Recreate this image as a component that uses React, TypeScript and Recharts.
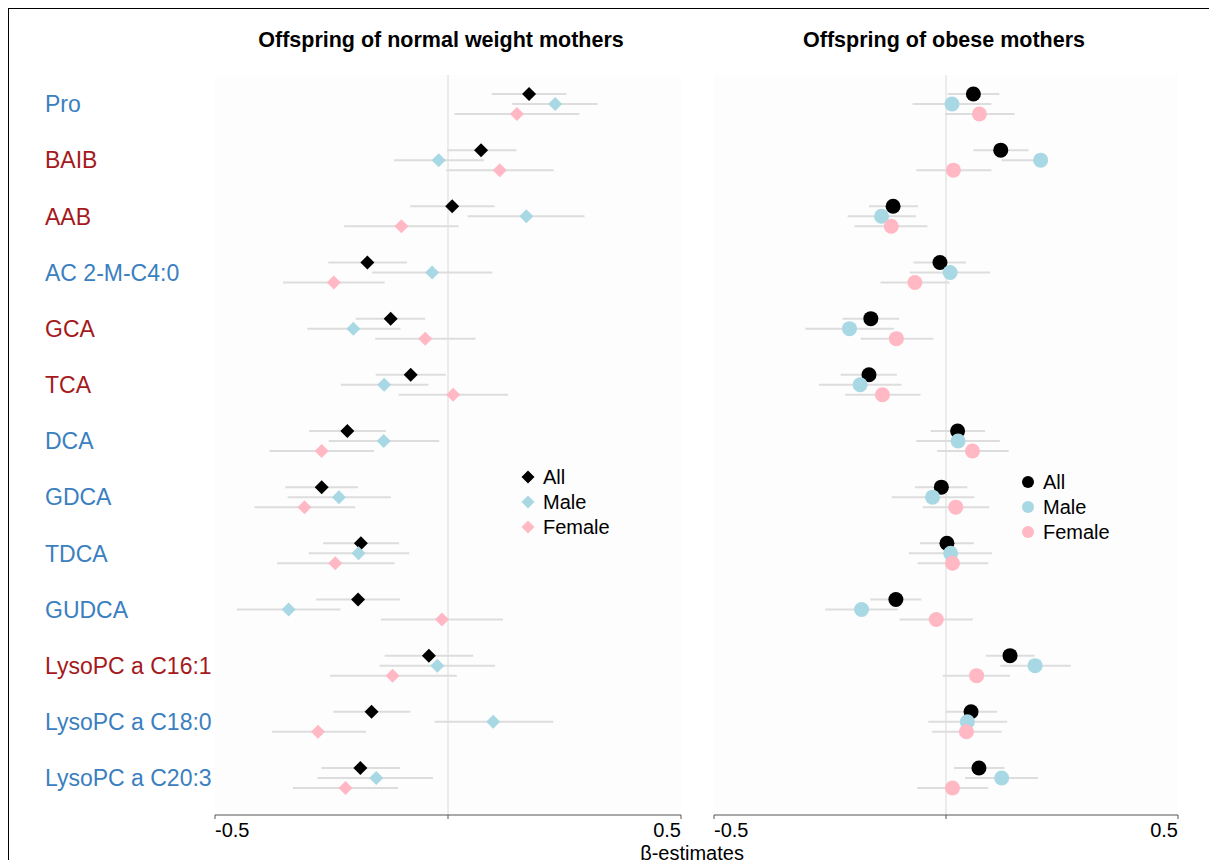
import React from "react";
import {
  ScatterChart,
  Scatter,
  XAxis,
  YAxis,
  ErrorBar,
  ReferenceLine,
  CartesianGrid,
} from "recharts";

const metabolites = [
  "Pro",
  "BAIB",
  "AAB",
  "AC 2-M-C4:0",
  "GCA",
  "TCA",
  "DCA",
  "GDCA",
  "TDCA",
  "GUDCA",
  "LysoPC a C16:1",
  "LysoPC a C18:0",
  "LysoPC a C20:3",
];
const redLabels = ["BAIB", "AAB", "GCA", "TCA", "LysoPC a C16:1"];
const xTicks = [-0.5, 0, 0.5];
const groups = ["All", "Male", "Female"];

// offspring of normal weight mothers
const nwAllEst = [0.174, 0.071, 0.009, -0.173, -0.123, -0.08, -0.216, -0.271, -0.187, -0.193, -0.041, -0.164, -0.188];
const nwAllLo = [0.094, -0.002, -0.081, -0.257, -0.198, -0.155, -0.298, -0.349, -0.268, -0.283, -0.136, -0.246, -0.271];
const nwAllHi = [0.254, 0.147, 0.1, -0.088, -0.049, -0.005, -0.133, -0.193, -0.105, -0.103, 0.054, -0.081, -0.103];
const nwMaleEst = [0.23, -0.02, 0.168, -0.034, -0.203, -0.137, -0.138, -0.234, -0.192, -0.342, -0.023, 0.097, -0.154];
const nwMaleLo = [0.138, -0.116, 0.042, -0.163, -0.302, -0.23, -0.256, -0.344, -0.299, -0.453, -0.147, -0.029, -0.28];
const nwMaleHi = [0.321, 0.077, 0.293, 0.095, -0.102, -0.042, -0.019, -0.123, -0.083, -0.231, 0.101, 0.226, -0.032];
const nwFemaleEst = [0.148, 0.111, -0.1, -0.245, -0.049, 0.011, -0.271, -0.308, -0.242, -0.013, -0.119, -0.279, -0.22];
const nwFemaleLo = [0.014, -0.004, -0.223, -0.354, -0.156, -0.106, -0.383, -0.415, -0.367, -0.144, -0.253, -0.378, -0.333];
const nwFemaleHi = [0.282, 0.227, 0.023, -0.136, 0.059, 0.129, -0.159, -0.199, -0.115, 0.118, 0.019, -0.176, -0.107];

// offspring of obese mothers
const obAllEst = [0.059, 0.118, -0.114, -0.013, -0.162, -0.166, 0.025, -0.01, 0.002, -0.108, 0.138, 0.054, 0.071];
const obAllLo = [0.004, 0.059, -0.166, -0.07, -0.223, -0.227, -0.033, -0.067, -0.056, -0.163, 0.086, -0.001, 0.017];
const obAllHi = [0.115, 0.178, -0.06, 0.043, -0.101, -0.106, 0.084, 0.046, 0.06, -0.053, 0.191, 0.11, 0.126];
const obMaleEst = [0.013, 0.204, -0.139, 0.009, -0.208, -0.185, 0.026, -0.029, 0.01, -0.182, 0.192, 0.046, 0.12];
const obMaleLo = [-0.072, 0.12, -0.212, -0.078, -0.303, -0.274, -0.064, -0.117, -0.08, -0.26, 0.117, -0.038, 0.041];
const obMaleHi = [0.098, 0.21, -0.065, 0.095, -0.112, -0.096, 0.116, 0.061, 0.099, -0.104, 0.269, 0.132, 0.198];
const obFemaleEst = [0.072, 0.016, -0.118, -0.067, -0.107, -0.137, 0.057, 0.021, 0.014, -0.021, 0.066, 0.044, 0.014];
const obFemaleLo = [-0.002, -0.064, -0.197, -0.141, -0.184, -0.217, -0.019, -0.05, -0.061, -0.1, -0.007, -0.03, -0.062];
const obFemaleHi = [0.148, 0.098, -0.04, 0.008, -0.027, -0.055, 0.135, 0.093, 0.091, 0.058, 0.138, 0.12, 0.091];

const FONT = "'Liberation Sans', Arial, Helvetica, sans-serif";
const BLUE = "#3a80c0";
const RED = "#a5191c";
const colors: Record<string, string> = { All: "#000000", Male: "#a8d8e3", Female: "#ffb8c4" };
const rowShift: Record<string, number> = { All: -0.178, Male: 0, Female: 0.178 };
const Y_DOMAIN: [number, number] = [-0.516, 12.659];
const LABEL_X = 37;

function rows(est: number[], lo: number[], hi: number[], group: string) {
  return est.map((v, i) => ({ x: v, y: i + rowShift[group], err: [v - lo[i], hi[i] - v] }));
}

const nwData: Record<string, any[]> = {
  All: rows(nwAllEst, nwAllLo, nwAllHi, "All"),
  Male: rows(nwMaleEst, nwMaleLo, nwMaleHi, "Male"),
  Female: rows(nwFemaleEst, nwFemaleLo, nwFemaleHi, "Female"),
};
const obData: Record<string, any[]> = {
  All: rows(obAllEst, obAllLo, obAllHi, "All"),
  Male: rows(obMaleEst, obMaleLo, obMaleHi, "Male"),
  Female: rows(obFemaleEst, obFemaleLo, obFemaleHi, "Female"),
};

const Diamond = (props: any) => {
  const { cx, cy, fill } = props;
  const h = 7;
  return <polygon points={`${cx},${cy - h} ${cx + h},${cy} ${cx},${cy + h} ${cx - h},${cy}`} fill={fill} />;
};

const Dot = (props: any) => {
  const { cx, cy, fill } = props;
  return <circle cx={cx} cy={cy} r={7.5} fill={fill} />;
};

const XTick = (props: any) => {
  const { x, y, payload } = props;
  if (payload.value === 0) return null;
  return (
    <text
      x={x}
      y={y}
      dy="0.71em"
      textAnchor={payload.value < 0 ? "start" : "end"}
      fontSize={20}
      fontFamily={FONT}
      fill="#000"
    >
      {payload.value}
    </text>
  );
};

const RowLabel = (props: any) => {
  const { y, payload } = props;
  const name = metabolites[payload.value];
  return (
    <text
      x={LABEL_X}
      y={y}
      dy="0.36em"
      textAnchor="start"
      fontSize={23}
      fontFamily={FONT}
      fill={redLabels.includes(name) ? RED : BLUE}
    >
      {name}
    </text>
  );
};

function Panel({ data, shape, showLabels, width, margin }: any) {
  return (
    <ScatterChart width={width} height={852} margin={margin}>
      <CartesianGrid fill="#fdfdfd" horizontal={false} vertical={false} />
      <XAxis
        type="number"
        dataKey="x"
        domain={[-0.5, 0.5]}
        ticks={xTicks}
        allowDataOverflow
        tickSize={4}
        tickMargin={4}
        stroke="#555"
        height={30}
        tick={(p: any) => <XTick {...p} />}
      />
      <YAxis
        type="number"
        dataKey="y"
        domain={Y_DOMAIN}
        reversed
        allowDataOverflow
        ticks={metabolites.map((_, i) => i)}
        interval={0}
        hide={!showLabels}
        width={170}
        axisLine={false}
        tickLine={false}
        tick={(p: any) => <RowLabel {...p} />}
      />
      <ReferenceLine x={0} stroke="#dadada" strokeWidth={1} />
      {groups.map((g) => (
        <Scatter
          key={g}
          name={g}
          data={data[g]}
          fill={colors[g]}
          isAnimationActive={false}
          shape={(p: any) => (shape === "diamond" ? <Diamond {...p} fill={colors[g]} /> : <Dot {...p} fill={colors[g]} />)}
        >
          <ErrorBar dataKey="err" direction="x" width={0} stroke="#dddddd" strokeWidth={2} />
        </Scatter>
      ))}
    </ScatterChart>
  );
}

function LegendBox({ left, top, shape }: any) {
  return (
    <div style={{ position: "absolute", left, top }}>
      {groups.map((g, i) => (
        <div key={g} style={{ position: "absolute", left: 0, top: i * 25 - 10, display: "flex", alignItems: "center", height: 20 }}>
          <svg width={16} height={16} style={{ marginLeft: -8 }}>
            {shape === "diamond" ? (
              <polygon points="8,1.5 14.5,8 8,14.5 1.5,8" fill={colors[g]} />
            ) : (
              <circle cx={8} cy={8} r={6} fill={colors[g]} />
            )}
          </svg>
          <span style={{ marginLeft: 7, fontSize: 20, lineHeight: "20px", fontFamily: FONT, color: "#000", whiteSpace: "nowrap" }}>
            {g}
          </span>
        </div>
      ))}
    </div>
  );
}

const titleStyle: React.CSSProperties = {
  position: "absolute",
  transform: "translate(-50%, -50%)",
  fontFamily: FONT,
  fontWeight: "bold",
  fontSize: 21.5,
  whiteSpace: "nowrap",
  color: "#000",
};

export default function App() {
  return (
    <div style={{ position: "relative", width: 1209, height: 852, fontFamily: FONT }}>
      <style>{"body{overflow:hidden}"}</style>
      <div
        style={{
          position: "absolute",
          left: -1,
          top: -1,
          width: 1215,
          height: 870,
          borderTop: "2px solid #000",
          borderLeft: "2px solid #000",
          boxSizing: "border-box",
        }}
      />
      <div style={{ position: "absolute", left: 0, top: 0 }}>
        <Panel
          data={nwData}
          shape="diamond"
          showLabels
          width={700}
          margin={{ top: 67, right: 27, bottom: 15, left: 37 }}
        />
      </div>
      <div style={{ position: "absolute", left: 680, top: 0 }}>
        <Panel
          data={obData}
          shape="circle"
          showLabels={false}
          width={529}
          margin={{ top: 67, right: 39, bottom: 15, left: 26 }}
        />
      </div>
      <div style={{ ...titleStyle, left: 433, top: 32 }}>Offspring of normal weight mothers</div>
      <div style={{ ...titleStyle, left: 936, top: 32 }}>Offspring of obese mothers</div>
      <div style={{ ...titleStyle, fontWeight: "normal", fontSize: 20, left: 684, top: 845 }}>β-estimates</div>
      <LegendBox left={520} top={469} shape="diamond" />
      <LegendBox left={1020} top={474} shape="circle" />
    </div>
  );
}
